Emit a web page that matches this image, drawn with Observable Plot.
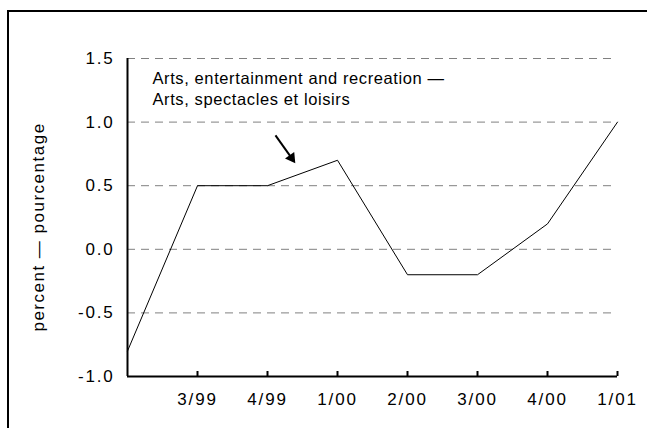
<!DOCTYPE html>
<html><head><meta charset="utf-8">
<script src="https://cdn.jsdelivr.net/npm/d3@7"></script>
<script src="https://cdn.jsdelivr.net/npm/@observablehq/plot@0.6"></script>
<style>
html,body{margin:0;padding:0;background:#fff;overflow:hidden;width:647px;height:428px}
#frame{position:absolute;left:7px;top:10px;width:700px;height:500px;border-left:2px solid #000;border-top:2px solid #000;box-sizing:border-box}
#chart{position:absolute;left:0;top:0}
svg text{font-family:Arial,"Liberation Sans",sans-serif}
g[aria-label="x-axis tick label"] text, g[aria-label="y-axis tick label"] text{letter-spacing:1.8px;font-size:17px}
g[aria-label="text"] text{letter-spacing:0.6px}
g[aria-label="y label"] text{letter-spacing:1.5px}
</style></head><body><div id="frame"></div><div id="chart"></div>
<script>
const quarters = ["2/99","3/99","4/99","1/00","2/00","3/00","4/00","1/01"];
const values = [-0.8, 0.5, 0.5, 0.7, -0.2, -0.2, 0.2, 1.0];
const yTicks = [-1.0, -0.5, 0.0, 0.5, 1.0, 1.5];
const gridLines = [-0.5, 0.0, 0.5, 1.0, 1.5];
const labelledIdx = [1, 2, 3, 4, 5, 6, 7];
const annotationLines = ["Arts, entertainment and recreation \u2014", "Arts, spectacles et loisirs"];
const yLabel = "percent \u2014 pourcentage";

const data = quarters.map((q, i) => ({i, q, v: values[i]}));
const note = [
  {x: 0.357, y: 1.39, t: annotationLines[0]},
  {x: 0.357, y: 1.225, t: annotationLines[1]}
];

const chart = Plot.plot({
  width: 647, height: 428,
  marginLeft: 127, marginRight: 30, marginTop: 58, marginBottom: 52,
  style: {fontFamily: "Arial, 'Liberation Sans', sans-serif", fontSize: "16px", background: "transparent", overflow: "visible", color: "#000"},
  x: {type: "linear", domain: [0, 7]},
  y: {domain: [-1, 1.5]},
  marks: [
    Plot.ruleY(gridLines, {stroke: "#808080", strokeWidth: 1, strokeDasharray: "8,6"}),
    Plot.ruleX([0], {stroke: "#000", strokeWidth: 2}),
    Plot.ruleY([-1], {stroke: "#000", strokeWidth: 2}),
    Plot.ruleX(labelledIdx, {y1: -1, y2: -1, insetTop: -5, stroke: "#000", strokeWidth: 2}),
    Plot.line(data, {x: "i", y: "v", stroke: "#000", strokeWidth: 1}),
    Plot.axisX({ticks: labelledIdx, tickFormat: i => quarters[i], tickSize: 0, tickPadding: 16, fontSize: 17, label: null}),
    Plot.axisY({ticks: yTicks, tickFormat: d => d.toFixed(1), tickSize: 0, tickPadding: 13, fontSize: 17, label: null}),
    Plot.text(note, {x: "x", y: "y", text: "t", textAnchor: "start", lineAnchor: "top", fontSize: 16.5, fill: "#000"}),
    Plot.link([{x1: 2.114, y1: 0.895, x2: 2.343, y2: 0.719}], {x1: "x1", y1: "y1", x2: "x2", y2: "y2", stroke: "#000", strokeWidth: 2}),
    Plot.dot([{x: 2.343, y: 0.719}], {x: "x", y: "y", symbol: "triangle", r: 4.2, rotate: 144.5, fill: "#000", stroke: "none"})
  ]
});
document.getElementById("chart").appendChild(chart);

const svg = d3.select(chart);
svg.append("g").attr("aria-label", "y label")
  .append("text")
  .attr("transform", "translate(44,227) rotate(-90)")
  .attr("text-anchor", "middle")
  .attr("font-size", 17)
  .attr("fill", "#000")
  .text(yLabel);
</script>
</body></html>
